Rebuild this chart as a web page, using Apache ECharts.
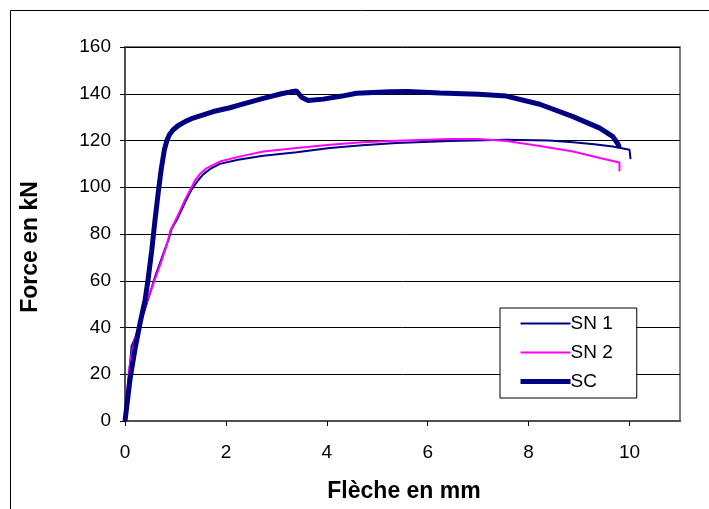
<!DOCTYPE html>
<html>
<head>
<meta charset="utf-8">
<script src="https://cdn.jsdelivr.net/npm/echarts@6/dist/echarts.min.js"></script>
<style>
html,body{margin:0;padding:0;background:#fff;}
#chart{width:709px;height:509px;}
</style>
</head>
<body>
<div id="chart"></div>
<script>
var seriesNames = ['SN 1', 'SN 2', 'SC'];
var xTitle = 'Flèche en mm';
var yTitle = 'Force en kN';

var sn1 = [[0,0],[0.05,12],[0.1,24],[0.13,32],[0.17,34],[0.23,37],[0.3,42],[0.4,48],[0.5,55],[0.6,62],[0.7,68],[0.8,74],[0.87,78],[0.92,82],[1.05,87],[1.2,94],[1.32,99],[1.45,103],[1.55,105.5],[1.7,108],[1.88,110],[2.24,111.8],[2.74,113.5],[3.4,115],[4.06,116.8],[4.7,118],[5.38,118.9],[6.44,119.8],[7.56,120.3],[8.4,120],[8.88,119.2],[9.3,118.4],[9.67,117.4],[10.0,116],[10.02,112]];

var sn2 = [[0,0],[0.04,12],[0.08,22],[0.15,31],[0.22,37],[0.3,42],[0.4,49],[0.5,55],[0.6,61],[0.7,67],[0.8,73.5],[0.86,78],[0.9,81.5],[1.05,88],[1.19,94.7],[1.39,103],[1.5,106],[1.62,108.2],[1.88,111],[2.24,113],[2.74,115.3],[3.4,116.8],[4.06,118.2],[4.7,119.2],[5.38,119.9],[6.44,120.6],[7.0,120.6],[7.56,119.8],[8.22,117.6],[8.88,115.3],[9.41,112.5],[9.8,110.6],[9.8,106.8]];

var sc = [[0,0],[0.1,18],[0.2,31],[0.3,42],[0.4,52],[0.46,61],[0.53,73],[0.59,85],[0.66,98],[0.72,108],[0.78,116],[0.83,120],[0.88,122.5],[0.95,124.5],[1.05,126.3],[1.2,128.2],[1.35,129.6],[1.75,132.4],[2.08,134],[2.24,135],[2.74,138],[3.1,140],[3.33,141],[3.4,141.2],[3.5,138.5],[3.63,137.1],[3.93,137.7],[4.3,139],[4.59,140.2],[5.25,140.9],[5.6,141],[6.24,140.3],[7,139.8],[7.56,139],[8.22,135.5],[8.88,130.2],[9.41,125.3],[9.67,121.7],[9.77,118.5],[9.8,117]];

var chart = echarts.init(document.getElementById('chart'), null, {renderer: 'canvas'});
var font = '"Liberation Sans", Arial, sans-serif';
chart.setOption({
  animation: false,
  backgroundColor: '#ffffff',
  textStyle: {fontFamily: font},
  grid: {left: 125, right: 29, top: 47, bottom: 88, show: true, borderColor: '#808080', borderWidth: 2, backgroundColor: 'transparent'},
  xAxis: {
    type: 'value', min: 0, max: 11, interval: 2,
    axisLine: {show: true, lineStyle: {color: '#505050', width: 2}},
    axisTick: {show: true, inside: false, length: 5, lineStyle: {color: '#000'}},
    axisLabel: {showMaxLabel: false, color: '#000', fontSize: 19, fontFamily: font, margin: 22},
    splitLine: {show: false}
  },
  yAxis: {
    type: 'value', min: 0, max: 160, interval: 20,
    axisLine: {show: true, lineStyle: {color: '#404040', width: 1.5}},
    axisTick: {show: true, inside: false, length: 5, lineStyle: {color: '#000'}},
    axisLabel: {color: '#000', fontSize: 19, fontFamily: font, margin: 14},
    splitLine: {show: true, lineStyle: {color: '#000', width: 1}}
  },
  legend: {
    orient: 'vertical', left: 500, top: 308,
    itemWidth: 50, itemHeight: 10, itemGap: 10,
    padding: [6, 24, 7, 18],
    backgroundColor: '#fff', borderColor: '#000', borderWidth: 1,
    itemStyle: {opacity: 0, color: 'transparent', borderWidth: 0},
    textStyle: {color: '#000', fontSize: 19, fontFamily: font, padding: [0,0,0,-5]},
    data: [
      {name: seriesNames[0], lineStyle: {width: 2, color: '#000080'}},
      {name: seriesNames[1], lineStyle: {width: 2, color: '#ff00ff'}},
      {name: seriesNames[2], lineStyle: {width: 5, color: '#000080'}}
    ]
  },
  graphic: [
    {type: 'rect', shape: {x: 10.5, y: 10.5, width: 760, height: 560}, style: {fill: 'none', stroke: '#000', lineWidth: 1}, silent: true},
    {type: 'text', x: 404, y: 492, style: {text: xTitle, font: 'bold 23px ' + font, fill: '#000', textAlign: 'center', textVerticalAlign: 'middle'}},
    {type: 'text', x: 31, y: 247, rotation: Math.PI / 2, style: {text: yTitle, font: 'bold 23px ' + font, fill: '#000', textAlign: 'center', textVerticalAlign: 'middle'}}
  ],
  series: [
    {name: seriesNames[0], type: 'line', data: sn1, showSymbol: false, symbol: 'none', lineStyle: {color: '#000080', width: 2}, itemStyle: {color: '#000080'}, z: 3},
    {name: seriesNames[1], type: 'line', data: sn2, showSymbol: false, symbol: 'none', lineStyle: {color: '#ff00ff', width: 2}, itemStyle: {color: '#ff00ff'}, z: 4},
    {name: seriesNames[2], type: 'line', data: sc, showSymbol: false, symbol: 'none', lineStyle: {color: '#000080', width: 5}, itemStyle: {color: '#000080'}, z: 5}
  ]
});
</script>
</body>
</html>
